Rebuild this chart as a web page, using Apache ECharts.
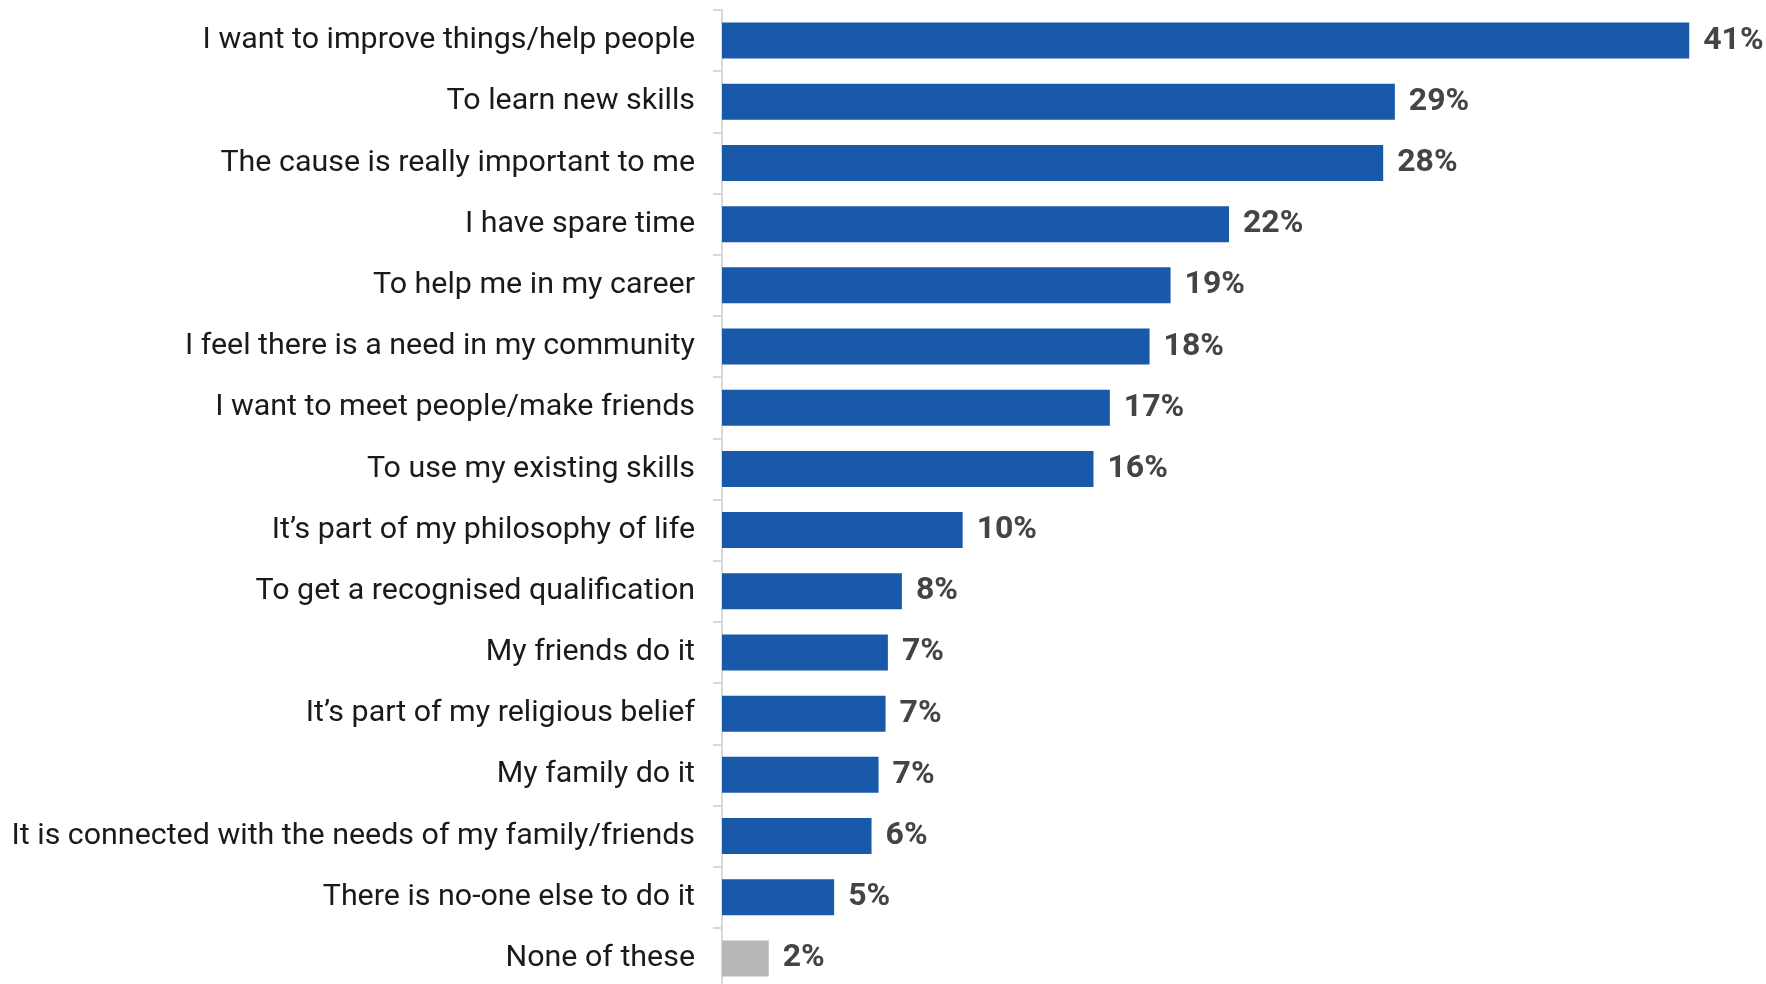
<!DOCTYPE html>
<html>
<head>
<meta charset="utf-8">
<style>
  html, body { margin: 0; padding: 0; background: #ffffff; }
  #chart { width: 1766px; height: 984px; }
</style>
<script src="https://cdn.jsdelivr.net/npm/echarts@6/dist/echarts.min.js"></script>
</head>
<body>
<div id="chart"></div>
<script>
// Reasons for volunteering, share of respondents (%)
const categories = [
  'I want to improve things/help people',
  'To learn new skills',
  'The cause is really important to me',
  'I have spare time',
  'To help me in my career',
  'I feel there is a need in my community',
  'I want to meet people/make friends',
  'To use my existing skills',
  'It\u2019s part of my philosophy of life',
  'To get a recognised qualification',
  'My friends do it',
  'It\u2019s part of my religious belief',
  'My family do it',
  'It is connected with the needs of my family/friends',
  'There is no-one else to do it',
  'None of these'
];
const values = [41.4, 28.8, 28.3, 21.7, 19.2, 18.3, 16.6, 15.9, 10.3, 7.7, 7.1, 7.0, 6.7, 6.4, 4.8, 2.0];
const highlightColor = '#1859a9';
const otherColor = '#b8b8b8';
const otherCategory = 'None of these';

const chart = echarts.init(document.getElementById('chart'), null, { renderer: 'canvas' });

const seriesData = values.map((v, i) => ({
  value: v,
  itemStyle: { color: categories[i] === otherCategory ? otherColor : highlightColor }
}));

chart.setOption({
  animation: false,
  backgroundColor: '#ffffff',
  grid: {
    left: 722, top: 10, width: 1028, height: 979,
    containLabel: false,
    outerBoundsMode: 'none'
  },
  xAxis: {
    type: 'value',
    min: 0,
    max: 44,
    show: false
  },
  yAxis: {
    type: 'category',
    data: categories,
    inverse: true,
    axisLine: { show: true, lineStyle: { color: '#d9d9d9', width: 2 } },
    axisTick: { show: true, length: 9, lineStyle: { color: '#d9d9d9', width: 2 } },
    axisLabel: {
      margin: 27,
      color: '#1a1a1a',
      fontFamily: 'Roboto',
      fontSize: 30.4
    },
    splitLine: { show: false }
  },
  series: [{
    type: 'bar',
    data: seriesData,
    barWidth: 36,
    label: {
      show: true,
      position: 'right',
      distance: 14,
      color: '#444444',
      fontFamily: 'Roboto',
      fontWeight: 'bold',
      fontSize: 32,
      formatter: p => Math.round(p.value) + '%'
    }
  }]
});
</script>
</body>
</html>
